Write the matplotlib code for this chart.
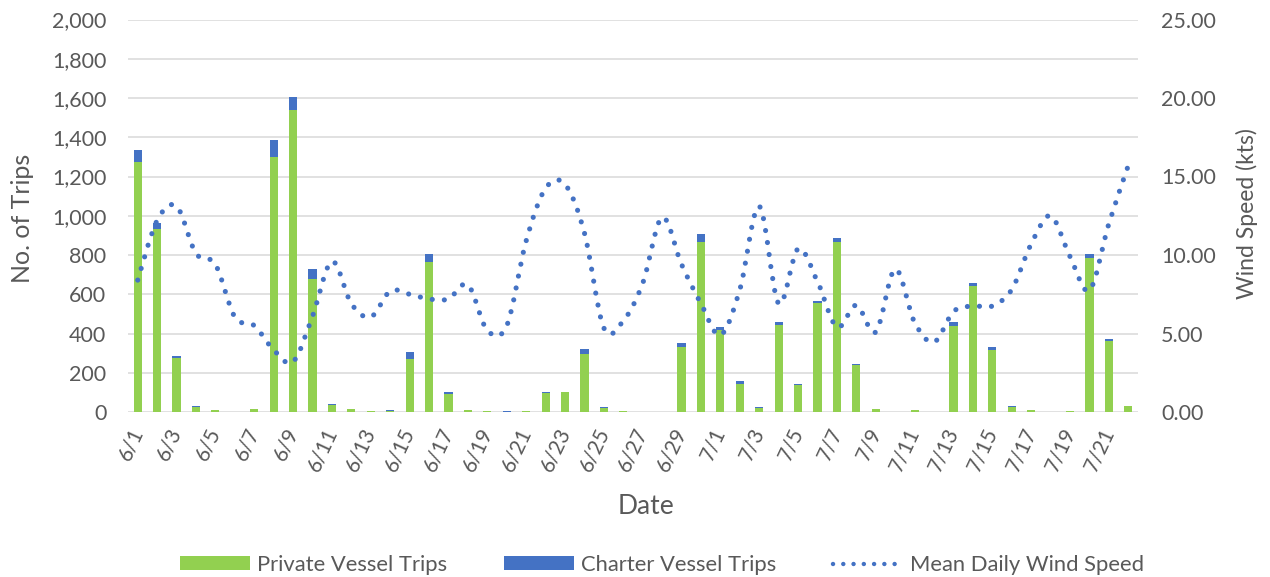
import matplotlib
matplotlib.use("Agg")
import matplotlib.pyplot as plt
from matplotlib.path import Path
from matplotlib.patches import PathPatch, Patch
from matplotlib.lines import Line2D
from matplotlib.ticker import FuncFormatter
import numpy as np

plt.rcParams['font.family'] = ['Lato', 'DejaVu Sans']

dates = ["6/1", "6/2", "6/3", "6/4", "6/5", "6/6", "6/7", "6/8", "6/9", "6/10",
         "6/11", "6/12", "6/13", "6/14", "6/15", "6/16", "6/17", "6/18", "6/19", "6/20",
         "6/21", "6/22", "6/23", "6/24", "6/25", "6/26", "6/27", "6/28", "6/29", "6/30",
         "7/1", "7/2", "7/3", "7/4", "7/5", "7/6", "7/7", "7/8", "7/9", "7/10",
         "7/11", "7/12", "7/13", "7/14", "7/15", "7/16", "7/17", "7/18", "7/19", "7/20",
         "7/21", "7/22"]

private_trips = [1272, 935, 276, 28, 9, 2, 13, 1298, 1537, 678,
                 36, 14, 4, 4, 268, 762, 94, 9, 4, 2,
                 4, 97, 101, 297, 22, 4, 1, 1, 331, 868,
                 417, 143, 22, 443, 137, 553, 866, 237, 14, 1,
                 9, 1, 440, 641, 315, 26, 9, 0, 3, 785,
                 362, 30]

charter_trips = [61, 30, 7, 2, 1, 0, 1, 86, 68, 53,
                 5, 1, 1, 6, 37, 45, 8, 1, 1, 3,
                 1, 3, 2, 22, 2, 1, 1, 0, 22, 41,
                 14, 13, 2, 15, 8, 13, 23, 7, 1, 1,
                 1, 0, 20, 14, 16, 3, 1, 0, 2, 22,
                 9, 1]

wind_speed = [8.4, 12.2, 13.1, 10.1, 9.4, 6.05, 5.5, 3.95, 3.2, 6.1,
              9.6, 6.9, 6.05, 7.7, 7.5, 7.2, 7.2, 8.1, 5.2, 5.5,
              10.9, 14.25, 14.5, 11.4, 5.35, 5.8, 8.2, 12.4, 9.4, 6.9,
              4.9, 7.8, 13.1, 6.9, 10.4, 8.3, 5.4, 6.8, 5.1, 9.1,
              5.7, 4.45, 6.4, 6.75, 6.75, 7.8, 10.7, 12.5, 9.9, 7.75,
              12.0, 15.7]

GREEN = "#92D050"
BLUE = "#4472C4"
TXT = "#595959"
GRID = "#D9D9D9"

fig = plt.figure(figsize=(12.7, 5.77), dpi=100)
ax = fig.add_axes([128/1270, 1 - 412/577, (1138-128)/1270, (412-19.5)/577])
ax2 = ax.twinx()

x = np.arange(len(dates))
ax.bar(x, private_trips, width=0.42, color=GREEN, zorder=2)
ax.bar(x, charter_trips, width=0.42, bottom=private_trips, color=BLUE, zorder=2)

ax.set_xlim(-0.5, len(dates) - 0.5)
ax.set_ylim(0, 2000)
ax.set_yticks(np.arange(0, 2001, 200))
ax.yaxis.set_major_formatter(FuncFormatter(lambda v, p: f"{int(v):,}"))
ax.grid(axis='y', color=GRID, linewidth=1.1, zorder=0)
ax.set_axisbelow(True)
for s in ax.spines.values():
    s.set_visible(False)
for s in ax2.spines.values():
    s.set_visible(False)
ax.tick_params(axis='y', length=0, pad=15.5, labelsize=15.5, labelcolor=TXT)
ax.set_xticks(x[::2])
ax.set_xticklabels(dates[::2], rotation=65, ha='right', va='center', rotation_mode='anchor')
ax.tick_params(axis='x', length=0, pad=12, labelsize=15, labelcolor=TXT)

ax2.set_ylim(0, 25)
ax2.set_yticks(np.arange(0, 25.01, 5))
ax2.yaxis.set_major_formatter(FuncFormatter(lambda v, p: f"{v:.2f}"))
ax2.tick_params(axis='y', length=0, pad=16.5, labelsize=15.5, labelcolor=TXT)

# smoothed wind speed line (cubic Bezier through the daily values)
pts = np.column_stack([x, wind_speed]).astype(float)
n = len(pts)
verts = [tuple(pts[0])]
codes = [Path.MOVETO]
for i in range(n - 1):
    p0 = pts[max(i - 1, 0)]
    p1 = pts[i]
    p2 = pts[i + 1]
    p3 = pts[min(i + 2, n - 1)]
    c1 = p1 + (p2 - p0) / 6.0
    c2 = p2 - (p3 - p1) / 6.0
    verts += [tuple(c1), tuple(c2), tuple(p2)]
    codes += [Path.CURVE4, Path.CURVE4, Path.CURVE4]
wind_path = Path(verts, codes)
patch = PathPatch(wind_path, facecolor='none', edgecolor=BLUE, linewidth=3.7,
                  linestyle=(0, (0.01, 2.35)), capstyle='round', zorder=3)
ax2.add_patch(patch)

ax.set_zorder(1)
ax2.set_zorder(2)
ax2.patch.set_visible(False)

fig.text(22/1270, 1 - 218/577, "No. of Trips", rotation=90, ha='center', va='center',
         fontsize=18, color=TXT)
fig.text(1247/1270, 1 - 214/577, "Wind Speed (kts)", rotation=90, ha='center', va='center',
         fontsize=16.5, color=TXT)
fig.text(646/1270, 1 - 507/577, "Date", ha='center', va='center', fontsize=19, color=TXT)

handles = [Patch(facecolor=GREEN, edgecolor='none'),
           Patch(facecolor=BLUE, edgecolor='none'),
           Line2D([0], [0], color=BLUE, linewidth=3.2, linestyle=(0, (0.01, 2.3)),
                  dash_capstyle='round')]
labels = ["Private Vessel Trips", "Charter Vessel Trips", "Mean Daily Wind Speed"]
fig.legend(handles, labels, loc='center', bbox_to_anchor=(662/1270, 12/577), ncol=3,
           frameon=False, fontsize=15.8, labelcolor=TXT, handlelength=3.2,
           handleheight=0.6, handletextpad=0.3, columnspacing=2.6)

fig.savefig("out.png", dpi=100)
